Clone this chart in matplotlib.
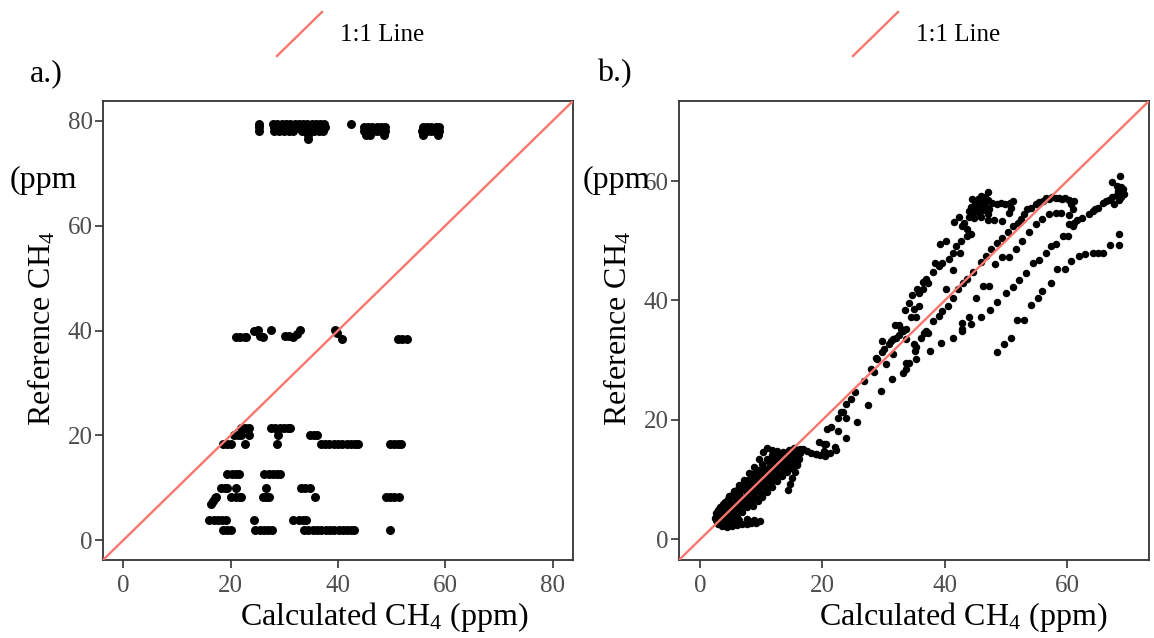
import matplotlib
matplotlib.use("Agg")
import numpy as np
import matplotlib.pyplot as plt
from matplotlib.lines import Line2D

plt.rcParams['font.family'] = ['Liberation Serif', 'DejaVu Serif']
plt.rcParams['mathtext.fontset'] = 'custom'
plt.rcParams['mathtext.rm'] = 'Liberation Serif'
plt.rcParams['mathtext.it'] = 'Liberation Serif:italic'

RED = '#F8766D'
W, H = 1154, 638

# ---- panel a: reference levels (rows) and calculated values ----
a_row_y = [79.5, 78.8, 78.1, 77.4, 21.3, 20.0, 18.3, 12.6, 10.0, 8.25, 3.8, 2.0]
a_row_x = [
    [25.2, 27.9, 28.7, 29.5, 30.3, 31.1, 31.9, 32.7, 33.5, 34.3, 35.1, 35.9, 36.7, 37.4, 42.4],
    [25.3, 28.0, 28.8, 29.6, 30.4, 31.2, 32.0, 32.8, 33.6, 34.4, 35.2, 36.0, 36.8, 37.5,
     44.8, 45.6, 46.4, 47.2, 48.0, 48.7, 55.8, 56.6, 57.4, 58.2, 58.8],
    [25.2, 28.1, 29.0, 29.9, 30.8, 31.6, 33.2, 34.0, 34.8, 35.6, 36.4, 37.2,
     44.9, 45.7, 46.5, 47.3, 48.1, 48.8, 55.7, 56.5, 57.3, 58.1, 58.8],
    [34.4, 45.2, 46.0, 48.6, 55.9, 58.6],
    [21.9, 22.7, 23.4, 27.5, 28.3, 29.1, 29.9, 30.7, 31.1],
    [20.7, 21.4, 22.0, 23.4, 28.8, 34.8, 35.5, 36.1],
    [18.5, 19.3, 20.1, 22.6, 28.6, 36.8, 37.6, 38.4, 39.2, 40.0, 40.8, 41.6, 42.4, 43.2, 43.7,
     49.6, 50.4, 51.2, 51.8],
    [19.4, 20.2, 21.0, 21.6, 26.3, 27.1, 27.9, 28.7, 29.1],
    [18.2, 18.9, 19.4, 21.0, 26.5, 33.1, 33.9, 34.7],
    [20.1, 20.9, 21.7, 21.9, 26.0, 26.6, 27.2, 35.8, 48.9, 49.7, 50.5, 51.3],
    [16.0, 16.8, 17.6, 18.3, 19.1, 24.4, 31.6, 32.8, 33.5, 34.1],
    [18.5, 19.3, 20.1, 24.6, 25.4, 26.2, 27.0, 27.7, 33.7, 34.5, 35.3, 36.1, 36.9, 37.7,
     38.5, 39.3, 40.1, 40.9, 41.7, 42.5, 42.9, 49.7],
]
a_extra = [(34.4, 76.6), (21.0, 38.8), (21.8, 38.8), (22.6, 38.7), (22.9, 38.8), (24.3, 39.9),
           (25.0, 40.1), (25.4, 39.0), (26.0, 38.7), (27.6, 40.1), (30.1, 38.9), (30.9, 38.9),
           (31.7, 38.7), (32.3, 39.3), (32.9, 40.1), (39.4, 40.1), (39.8, 39.6), (40.8, 38.3),
           (51.2, 38.3), (52.0, 38.3), (52.8, 38.3),
           (16.4, 6.9), (16.7, 7.5), (17.0, 8.0), (17.2, 8.3)]

# ---- panel b ----
b_blob = [
    (2.6, 4.4), (3.3, 5.4), (4.0, 6.3), (4.8, 7.2), (5.6, 8.1), (6.4, 9.1), (7.2, 10.0), (8.0, 11.1),
    (8.8, 12.2), (9.6, 13.5), (10.3, 14.7), (11.0, 15.3), (11.8, 15.0), (12.6, 14.7),
    (3.0, 5.0), (3.8, 6.0), (4.6, 6.8), (5.4, 7.6), (6.2, 8.4), (7.0, 9.2), (7.8, 10.0), (8.6, 10.9),
    (9.4, 11.7), (10.2, 12.6), (11.0, 13.5), (11.8, 14.2), (12.6, 14.8),
    (2.4, 3.6), (3.2, 4.6), (4.0, 5.5), (4.8, 6.3), (5.6, 7.1), (6.4, 7.9), (7.2, 8.8), (8.0, 9.6),
    (8.8, 10.4), (9.6, 11.2), (10.4, 12.0), (11.2, 12.9), (12.0, 13.6), (12.8, 14.2), (13.6, 14.6),
    (2.6, 3.3), (3.4, 4.1), (4.2, 4.9), (5.0, 5.8), (5.8, 6.5), (6.6, 7.3), (7.4, 8.2), (8.2, 9.0),
    (9.0, 9.7), (9.8, 10.6), (10.6, 11.3), (11.4, 12.2), (12.2, 12.9), (13.0, 13.6), (13.8, 14.3),
    (14.6, 14.9), (15.4, 15.3),
    (2.8, 2.9), (3.6, 3.7), (4.4, 4.5), (5.2, 5.2), (6.0, 6.0), (6.8, 6.9), (7.6, 7.6), (8.4, 8.4),
    (9.2, 9.2), (10.0, 10.1), (10.8, 10.8), (11.6, 11.6), (12.4, 12.4), (13.2, 13.1), (14.0, 13.7),
    (14.8, 14.2), (15.6, 14.8), (16.4, 15.1),
    (3.4, 2.8), (4.2, 3.5), (5.0, 4.3), (5.8, 5.1), (6.6, 5.9), (7.4, 6.7), (8.2, 7.5), (9.0, 8.3),
    (9.8, 9.1), (10.6, 9.9), (11.4, 10.7), (12.2, 11.5), (13.0, 12.3), (13.8, 13.0), (14.6, 13.6),
    (15.4, 14.0), (16.2, 14.4),
    (4.0, 2.7), (4.8, 3.4), (5.6, 4.1), (6.4, 4.9), (7.2, 5.7), (8.0, 6.4), (8.8, 7.3), (9.6, 8.1),
    (10.4, 8.9), (11.2, 9.7), (12.0, 10.4), (12.8, 11.2), (13.6, 11.9), (14.4, 12.5), (15.2, 13.1),
    (16.0, 13.7),
    (5.2, 3.0), (6.0, 3.8), (6.8, 4.6), (7.6, 5.4), (8.4, 6.2), (9.2, 7.0), (10.0, 7.8), (10.8, 8.6),
    (11.6, 9.4), (12.4, 10.2), (13.2, 11.0), (14.0, 11.7), (14.8, 12.3), (15.6, 13.0),
    (8.6, 5.6), (9.4, 6.4), (10.2, 7.1), (11.0, 7.9), (11.8, 8.8), (12.6, 9.7), (13.4, 10.6),
    (14.2, 11.3), (15.0, 12.0), (15.8, 12.7),
    (3.0, 2.5), (3.6, 2.3), (4.4, 2.1), (5.2, 2.2), (6.0, 2.4), (6.8, 2.5), (7.6, 2.6), (8.4, 2.7),
    (9.2, 2.8), (9.8, 3.0), (4.8, 2.8), (5.6, 2.9), (6.4, 3.2), (7.6, 3.4), (8.0, 3.1), (8.8, 3.2),
    (14.3, 8.2), (14.7, 9.2), (15.1, 10.2), (15.5, 11.3), (15.9, 12.4), (16.2, 13.5), (16.4, 14.5),
    (16.8, 15.2), (17.5, 14.8), (18.2, 14.5), (18.9, 14.3), (19.6, 14.1), (20.3, 14.8), (21.3, 14.4),
    (22.0, 15.5), (20.6, 16.0),
]
b_upper = [
    (18.9, 14.3), (20.5, 14.0), (19.5, 16.3), (20.3, 16.0), (20.8, 18.5), (21.4, 18.8), (22.5, 20.4),
    (23.0, 21.3), (23.3, 21.3), (23.8, 22.7), (24.6, 23.5), (25.4, 24.6), (26.8, 26.5), (27.9, 28.5),
    (28.5, 28.1), (28.7, 30.3), (29.0, 30.2), (30.1, 31.8), (29.8, 33.2), (30.9, 32.7), (31.5, 33.5),
    (31.2, 33.2), (32.1, 33.8), (32.5, 34.2), (33.1, 34.9), (31.9, 35.9), (32.5, 35.9), (32.9, 35.3),
    (33.7, 35.2), (33.5, 38.4), (34.5, 37.2), (35.3, 37.2), (34.1, 39.6), (35.0, 38.5), (35.8, 39.1),
    (34.7, 40.9), (35.8, 41.3), (35.5, 42.0), (36.4, 42.0), (36.4, 43.1), (36.9, 43.6), (37.3, 42.9),
    (38.0, 44.7), (38.4, 46.3), (39.1, 45.7), (39.6, 46.3), (40.7, 46.9), (41.4, 45.1), (41.3, 48.0),
    (42.5, 47.9), (41.8, 49.1), (39.2, 49.4), (40.2, 49.9), (42.6, 50.0), (43.6, 50.8), (44.3, 51.1),
    (43.7, 51.9), (42.8, 52.5), (43.2, 52.9), (41.5, 53.1), (42.4, 53.9), (40.2, 41.9),
]
b_peak = [
    (47.0, 58.1), (44.5, 57.0), (45.9, 57.5), (44.0, 54.0), (44.6, 54.8), (45.2, 55.6), (45.8, 56.2),
    (46.4, 56.6), (47.0, 56.9), (44.3, 55.6), (45.0, 56.5), (45.6, 54.6), (46.2, 55.2), (46.8, 55.7),
    (47.3, 55.3), (44.8, 53.8), (46.0, 53.9), (47.0, 54.5), (43.9, 55.0), (45.4, 57.0), (46.6, 57.4),
    (47.8, 56.4), (48.5, 56.2), (49.2, 56.4), (49.9, 56.1), (50.6, 56.3), (51.1, 56.6), (50.9, 55.5),
    (50.5, 54.7), (47.0, 53.5), (48.1, 53.5), (49.3, 53.3),
]
b_online = [
    (35.3, 32.2), (36.2, 33.8), (36.9, 34.9), (38.0, 36.6), (39.1, 37.4), (39.5, 38.3), (40.5, 39.1),
    (41.3, 40.4), (42.1, 41.9), (43.0, 42.9), (43.7, 43.6), (44.6, 44.8), (45.9, 46.4), (46.7, 47.5),
    (47.5, 48.6), (48.6, 49.7), (49.4, 50.5), (50.3, 51.4), (51.1, 52.5), (51.9, 53.0), (52.4, 53.6),
    (53.0, 54.4), (53.5, 55.3), (54.1, 55.5), (54.9, 56.1), (56.0, 56.7), (57.1, 57.0), (58.2, 57.2),
    (59.2, 57.0), (60.3, 56.9), (61.1, 56.7), (60.9, 55.4), (56.5, 57.1), (57.6, 57.3), (58.7, 57.2),
    (59.7, 57.1), (55.4, 56.5), (60.7, 56.2),
    (36.6, 34.6), (37.2, 34.6), (35.0, 32.7), (35.2, 31.6), (35.3, 30.2), (33.7, 33.5), (33.6, 29.6),
    (33.7, 28.5), (34.2, 29.6), (33.1, 27.8), (31.4, 26.8), (30.4, 29.3), (29.8, 31.3), (31.5, 31.0),
    (29.5, 24.9), (27.5, 22.5), (23.8, 20.4), (22.5, 18.2), (25.7, 19.6), (23.8, 16.9), (22.2, 15.0),
    (39.4, 32.9), (41.3, 33.8), (42.9, 34.9), (37.6, 31.6),
]
b_below = [
    (57.0, 54.4), (58.2, 54.7), (59.0, 54.7), (60.3, 54.3), (55.9, 53.6), (54.9, 52.8), (53.8, 51.4),
    (52.7, 50.0), (51.6, 48.7), (50.5, 47.2), (49.4, 47.2), (48.2, 46.1), (46.2, 42.5), (47.3, 42.5),
    (45.1, 40.4), (43.9, 37.2), (42.9, 36.3), (44.3, 36.1),
    (59.4, 50.8), (60.1, 50.8), (58.2, 49.4), (57.4, 49.1), (56.5, 48.0), (55.4, 46.7), (54.4, 46.3),
    (53.3, 44.6), (52.2, 43.5), (51.1, 42.3), (50.0, 41.2), (48.6, 39.7), (47.4, 38.4), (45.9, 37.3),
    (42.9, 35.2),
]
b_lowest = [
    (68.5, 51.1), (68.5, 49.3), (67.0, 49.3), (65.8, 48.0), (65.0, 48.0), (64.2, 48.0), (62.9, 47.8),
    (61.9, 47.5), (60.6, 46.6), (59.7, 45.3), (58.4, 45.3), (57.4, 43.0), (55.9, 41.6), (55.2, 40.5),
    (54.1, 39.2), (52.9, 36.8), (51.8, 36.8), (50.8, 33.8), (49.7, 32.7), (48.6, 31.4),
]
b_right = [
    (68.6, 60.8), (67.4, 59.9), (68.2, 59.2), (68.8, 59.0), (69.2, 58.6), (68.4, 58.3), (69.0, 58.0),
    (68.1, 57.6), (68.8, 57.3), (69.3, 57.8), (68.5, 56.8), (67.7, 56.1), (66.9, 56.9), (65.8, 56.3),
    (65.0, 55.5), (64.2, 54.9), (63.6, 54.4), (62.5, 53.8), (61.7, 53.5), (61.2, 53.0), (60.9, 52.5),
    (60.3, 52.8), (67.3, 57.4), (66.4, 56.6), (64.6, 55.3),
]

a_xticks = [0, 20, 40, 60, 80]
b_xticks = [0, 20, 40, 60]


def style_axes(ax, lim, ticks):
    ax.set_xlim(lim)
    ax.set_ylim(lim)
    ax.set_xticks(ticks)
    ax.set_yticks(ticks)
    for sp in ax.spines.values():
        sp.set_linewidth(1.3)
        sp.set_color('#333333')
    ax.tick_params(direction='out', length=6, width=1.2, color='#333333',
                   labelcolor='#4D4D4D', labelsize=18)
    ax.tick_params(axis='x', pad=5)
    ax.tick_params(axis='y', pad=1.5)
    ax.axline((0, 0), slope=1, color=RED, lw=1.7, zorder=3)


fig = plt.figure(figsize=(W / 100, H / 100), dpi=100)
ax_a = fig.add_axes([103 / W, 1 - 560 / H, 470 / W, 459 / H])
ax_b = fig.add_axes([679 / W, 1 - 560 / H, 470 / W, 459 / H])

ax_x = []
ax_y = []
for yv, xs in zip(a_row_y, a_row_x):
    ax_x += xs
    ax_y += [yv] * len(xs)
ax_x += [p[0] for p in a_extra]
ax_y += [p[1] for p in a_extra]
ax_a.scatter(ax_x, ax_y, s=42, color='black', linewidths=0, zorder=2)
style_axes(ax_a, (-3.8, 83.8), a_xticks)

b_pts = np.array(b_blob + b_upper + b_peak + b_online + b_below + b_lowest + b_right)
ax_b.scatter(b_pts[:, 0], b_pts[:, 1], s=29, color='black', linewidths=0, zorder=2)
style_axes(ax_b, (-3.45, 73.4), b_xticks)

# labels (placed as in the reference)
for yl_x, pp_x, xl_x, tag_x, tag, leg_x in [(42, 10, 384, 30, 'a.)', 277),
                                             (618, 583, 963, 597, 'b.)', 853)]:
    fig.text(yl_x / W, 1 - 328 / H, 'Reference CH$_4$', rotation=90,
             ha='center', va='center', fontsize=23)
    fig.text(pp_x / W, 1 - 180 / H, '(ppm', ha='left', va='center', fontsize=23)
    fig.text(xl_x / W, 1 - 617 / H, 'Calculated CH$_4$ (ppm)',
             ha='center', va='center', fontsize=23)
    fig.text(tag_x / W, 1 - 74 / H, tag, ha='left', va='center', fontsize=23)
    fig.add_artist(Line2D([leg_x / W, (leg_x + 45) / W], [1 - 56 / H, 1 - 12 / H],
                          transform=fig.transFigure, color=RED, lw=1.7))
    fig.text((leg_x + 63) / W, 1 - 35 / H, '1:1 Line', ha='left', va='center', fontsize=18)

fig.savefig('out.png', dpi=100)
